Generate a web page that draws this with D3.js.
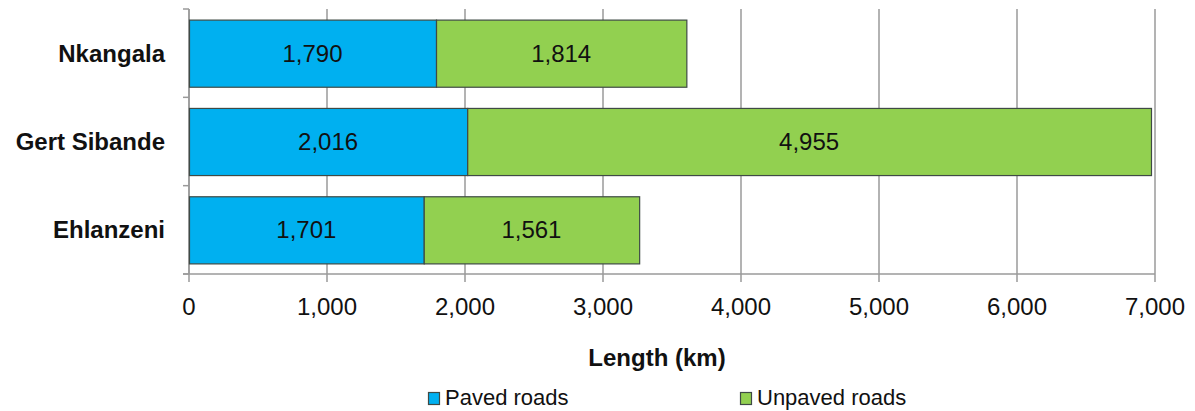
<!DOCTYPE html>
<html>
<head>
<meta charset="utf-8">
<script src="https://cdn.jsdelivr.net/npm/d3@7"></script>
<style>
  html, body { margin: 0; padding: 0; background: #fff; }
  svg { display: block; font-family: "Liberation Sans", Arial, sans-serif; }
</style>
</head>
<body>
<svg id="chart" width="1195" height="411"></svg>
<script>
// Road length by district municipality (km)
const districts = ["Nkangala", "Gert Sibande", "Ehlanzeni"];
const paved = [1790, 2016, 1701];
const unpaved = [1814, 4955, 1561];
const seriesNames = ["Paved roads", "Unpaved roads"];
const seriesColors = ["#00B0F0", "#92D050"];
const xTicks = [0, 1000, 2000, 3000, 4000, 5000, 6000, 7000];
const xTitle = "Length (km)";

const svg = d3.select("#chart");
const plot = { left: 189, right: 1155, top: 9, bottom: 274 };

const x = d3.scaleLinear().domain([0, 7000]).range([plot.left, plot.right]);
const y = d3.scaleBand().domain(districts).range([plot.top, plot.bottom])
  .paddingInner(0.24).paddingOuter(0.12);

const fmt = d3.format(",");
const gridColor = "#9a9a9a";

// Vertical gridlines with tick marks below the axis
svg.append("g")
  .selectAll("line")
  .data(xTicks)
  .join("line")
  .attr("x1", d => x(d)).attr("x2", d => x(d))
  .attr("y1", plot.top).attr("y2", plot.bottom + 8)
  .attr("stroke", gridColor).attr("stroke-width", 1.5);

// Category axis line and ticks at band boundaries
svg.append("line")
  .attr("x1", plot.left).attr("x2", plot.left)
  .attr("y1", plot.top).attr("y2", plot.bottom)
  .attr("stroke", gridColor).attr("stroke-width", 1.5);
const bounds = [plot.top].concat(districts.map(d => y(d) + y.bandwidth() + y.step() * y.paddingInner() / 2));
bounds[bounds.length - 1] = plot.bottom;
svg.append("g")
  .selectAll("line")
  .data(bounds)
  .join("line")
  .attr("x1", plot.left - 6).attr("x2", plot.left)
  .attr("y1", d => d).attr("y2", d => d)
  .attr("stroke", gridColor).attr("stroke-width", 1.5);

// Value axis line
svg.append("line")
  .attr("x1", plot.left - 6).attr("x2", plot.right)
  .attr("y1", plot.bottom).attr("y2", plot.bottom)
  .attr("stroke", gridColor).attr("stroke-width", 1.5);

// Stacked segments
const rows = districts.map((name, i) => ({ name, values: [paved[i], unpaved[i]] }));
const segs = [];
rows.forEach(r => {
  let start = 0;
  r.values.forEach((v, k) => {
    segs.push({ name: r.name, k, x0: start, x1: start + v, v });
    start += v;
  });
});

svg.append("g")
  .selectAll("rect")
  .data(segs)
  .join("rect")
  .attr("x", d => x(d.x0) + 0.5)
  .attr("y", d => y(d.name) + 0.5)
  .attr("width", d => x(d.x1) - x(d.x0))
  .attr("height", y.bandwidth())
  .attr("fill", d => seriesColors[d.k])
  .attr("stroke", "#3f4a45")
  .attr("stroke-width", 1.2);

// Value labels inside segments
svg.append("g")
  .selectAll("text")
  .data(segs)
  .join("text")
  .attr("x", d => (x(d.x0) + x(d.x1)) / 2)
  .attr("y", d => y(d.name) + y.bandwidth() / 2)
  .attr("dy", "0.36em")
  .attr("text-anchor", "middle")
  .attr("font-size", 24)
  .attr("fill", "#111")
  .text(d => fmt(d.v));

// Category labels
svg.append("g")
  .selectAll("text")
  .data(districts)
  .join("text")
  .attr("x", 165)
  .attr("y", d => y(d) + y.bandwidth() / 2)
  .attr("dy", "0.36em")
  .attr("text-anchor", "end")
  .attr("font-size", 24)
  .attr("font-weight", "bold")
  .attr("fill", "#111")
  .text(d => d);

// Value tick labels
svg.append("g")
  .selectAll("text")
  .data(xTicks)
  .join("text")
  .attr("x", d => x(d))
  .attr("y", 315)
  .attr("text-anchor", "middle")
  .attr("font-size", 24)
  .attr("fill", "#111")
  .text(d => fmt(d));

// Axis title
svg.append("text")
  .attr("x", 657)
  .attr("y", 366)
  .attr("text-anchor", "middle")
  .attr("font-size", 24)
  .attr("font-weight", "bold")
  .attr("fill", "#111")
  .text(xTitle);

// Legend
const legendX = [428, 740];
const legend = svg.append("g")
  .selectAll("g")
  .data(seriesNames)
  .join("g")
  .attr("transform", (d, i) => `translate(${legendX[i]},392)`);
legend.append("rect")
  .attr("x", 0.5).attr("y", 0.5)
  .attr("width", 11).attr("height", 12)
  .attr("fill", (d, i) => seriesColors[i])
  .attr("stroke", "#3f4a45").attr("stroke-width", 1.2);
legend.append("text")
  .attr("x", 17)
  .attr("y", 13)
  .attr("font-size", 22)
  .attr("fill", "#111")
  .text(d => d);
</script>
</body>
</html>
